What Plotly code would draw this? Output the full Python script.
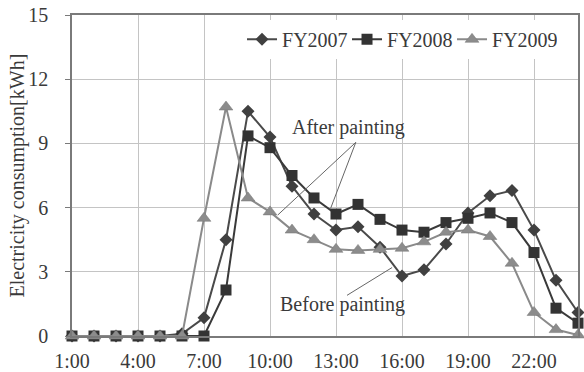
import plotly.graph_objects as go

# Hourly electricity consumption profile (hour of day 1..24)
hours = list(range(1, 25))
fy2007 = [0, 0, 0, 0, 0, 0.1, 0.85, 4.5, 10.5, 9.3, 7.0, 5.7, 4.95, 5.1, 4.15,
          2.8, 3.1, 4.3, 5.75, 6.55, 6.8, 4.95, 2.6, 1.1]
fy2008 = [0, 0, 0, 0, 0, 0, 0, 2.15, 9.35, 8.8, 7.5, 6.45, 5.7, 6.15, 5.45,
          4.95, 4.85, 5.3, 5.5, 5.75, 5.3, 3.9, 1.3, 0.6]
fy2009 = [0, 0, 0, 0, 0, 0, 5.5, 10.7, 6.45, 5.8, 4.95, 4.5, 4.05, 4.0, 4.05,
          4.1, 4.4, 4.85, 4.95, 4.65, 3.4, 1.1, 0.3, 0.05]

tick_hours = [1, 4, 7, 10, 13, 16, 19, 22]
tick_labels = ["1:00", "4:00", "7:00", "10:00", "13:00", "16:00", "19:00", "22:00"]
y_ticks = [0, 3, 6, 9, 12, 15]

FONT = "Liberation Serif, Times New Roman, serif"
TXT = "#3a3a3a"
FS = 20
PLOT_L, PLOT_W = 72, 506

fig = go.Figure()
fig.add_trace(go.Scatter(
    x=hours, y=fy2007, name="FY2007", mode="lines+markers",
    line=dict(color="#4a4a4a", width=2),
    marker=dict(symbol="diamond", size=10, color="#404040"),
    cliponaxis=False))
fig.add_trace(go.Scatter(
    x=hours, y=fy2008, name="FY2008", mode="lines+markers",
    line=dict(color="#3a3a3a", width=2),
    marker=dict(symbol="square", size=11, color="#333333"),
    cliponaxis=False))
fig.add_trace(go.Scatter(
    x=hours, y=fy2009, name="FY2009", mode="lines+markers",
    line=dict(color="#8a8a8a", width=2),
    marker=dict(symbol="triangle-up", size=12, color="#8c8c8c",
                line=dict(color="#777777", width=0.5)),
    cliponaxis=False))

# Callout lines for the annotations
callouts = [
    (13.9, 9.05, 10.35, 5.65),
    (13.9, 9.05, 12.75, 5.95),
    (13.5, 1.9, 15.55, 3.2),
]
for x0, y0, x1, y1 in callouts:
    fig.add_shape(type="line", x0=x0, y0=y0, x1=x1, y1=y1, xref="x", yref="y",
                  line=dict(color="#666666", width=1))

fig.add_annotation(x=13.55, y=9.72, xref="x", yref="y", text="After painting",
                   showarrow=False, font=dict(family=FONT, size=FS, color=TXT))
fig.add_annotation(x=13.3, y=1.45, xref="x", yref="y", text="Before painting",
                   showarrow=False, font=dict(family=FONT, size=FS, color=TXT))

# Y-axis title, placed as rotated text left of the tick labels
fig.add_annotation(x=(17 - PLOT_L) / PLOT_W, y=0.5, xref="paper", yref="paper",
                   text="Electricity consumption[kWh]", textangle=-90,
                   showarrow=False, xanchor="center", yanchor="middle",
                   font=dict(family=FONT, size=FS, color=TXT))

fig.update_layout(
    width=584, height=372,
    margin=dict(l=72, r=6, t=15, b=36),
    paper_bgcolor="white", plot_bgcolor="white",
    font=dict(family=FONT, size=FS, color=TXT),
    showlegend=True,
    legend=dict(orientation="h", x=0.336, y=0.985, xanchor="left", yanchor="top",
                bgcolor="white", font=dict(family=FONT, size=FS, color=TXT),
                itemwidth=30, tracegroupgap=0,
                entrywidth=60, entrywidthmode="pixels"),
    xaxis=dict(range=[1, 24], tickvals=tick_hours, ticktext=tick_labels,
               showgrid=True, gridcolor="#c4c4c4", gridwidth=1,
               showline=True, linecolor="#7a7a7a", linewidth=1.5, mirror=True,
               ticks="", zeroline=False, ticklabelstandoff=6, automargin=False,
               tickfont=dict(family=FONT, size=FS, color=TXT)),
    yaxis=dict(range=[0, 15], tickvals=y_ticks,
               showgrid=True, gridcolor="#c4c4c4", gridwidth=1,
               showline=True, linecolor="#7a7a7a", linewidth=1.5, mirror=True,
               ticks="outside", ticklen=5, tickcolor="#7a7a7a", tickwidth=1,
               zeroline=False, ticklabelstandoff=13, automargin=False,
               tickfont=dict(family=FONT, size=FS, color=TXT)),
)

fig.write_html("out.html")
